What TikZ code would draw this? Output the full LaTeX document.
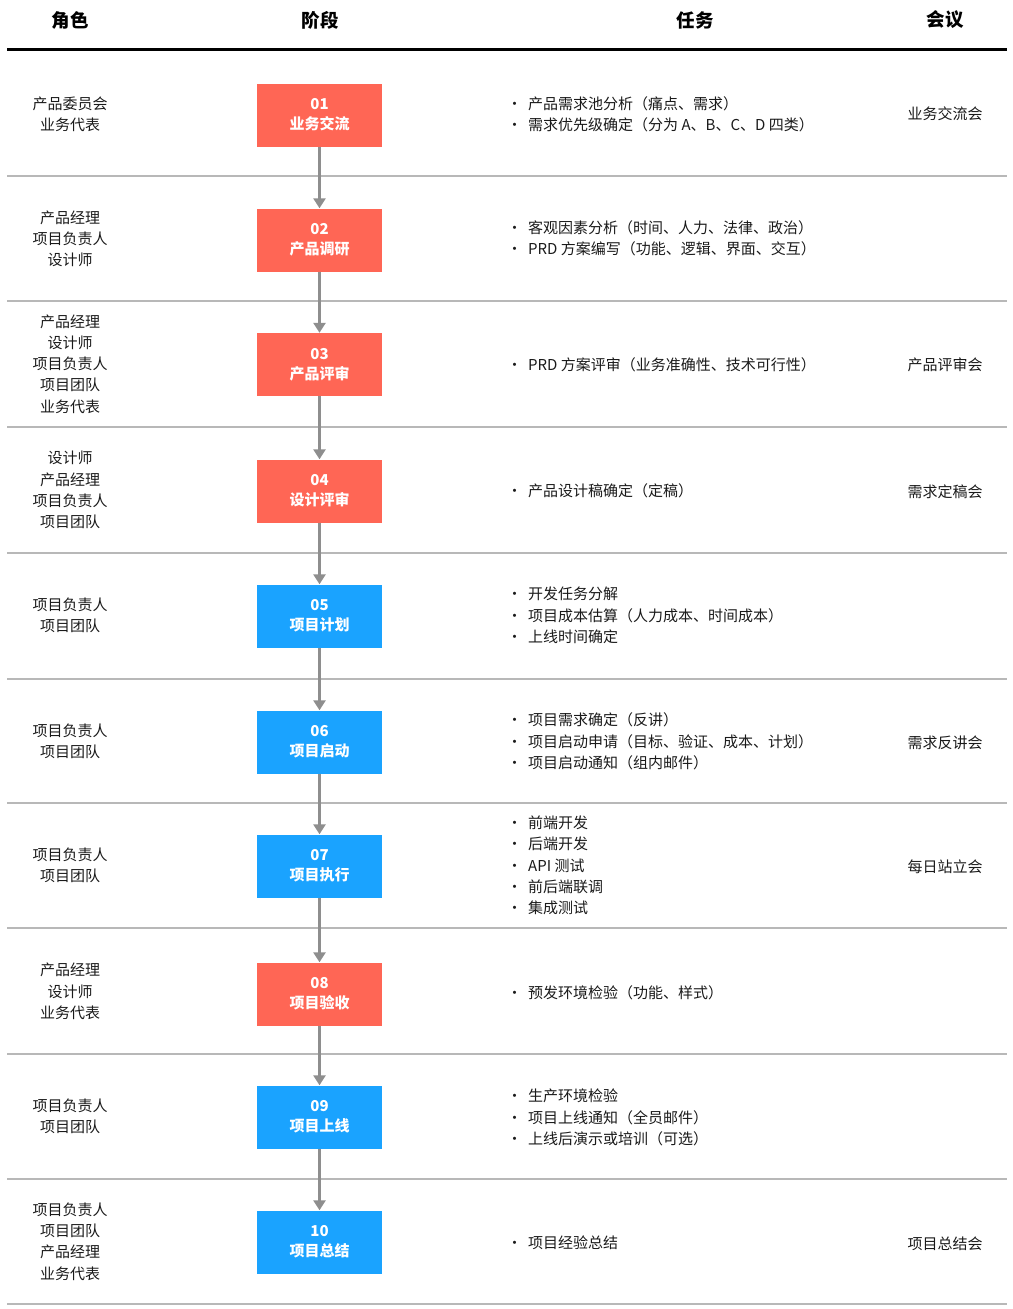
\documentclass[tikz,border=0pt]{standalone}
\usepackage{fontspec}
\setmainfont{Noto Sans CJK SC}
\usetikzlibrary{arrows.meta}
\definecolor{stRed}{HTML}{FF6655}
\definecolor{stBlue}{HTML}{1AA3FF}
\definecolor{sepGray}{HTML}{B8B8B8}
\definecolor{arrGray}{HTML}{8E8E8E}
\definecolor{txt}{HTML}{1A1A1A}
\newcommand{\bul}{\makebox[21pt][l]{•}}
\tikzset{
  hdr/.style={font=\fontsize{18.5}{22}\selectfont\bfseries, text=black, anchor=center},
  role/.style={font=\fontsize{15}{21.3}\selectfont, text=txt, align=center, anchor=center},
  task/.style={font=\fontsize{15}{21.3}\selectfont, text=txt, align=left, anchor=west, inner sep=0pt},
  meet/.style={font=\fontsize{15}{21.3}\selectfont, text=txt, anchor=center},
  stage/.style={minimum width=125pt, minimum height=63pt, inner sep=0pt, align=center,
     text=white, font=\fontsize{15}{20}\selectfont\bfseries},
  redst/.style={stage, fill=stRed},
  bluest/.style={stage, fill=stBlue},
  sep/.style={draw=sepGray, line width=1.2pt},
  flow/.style={draw=arrGray, line width=3pt, -{Triangle[width=12pt,length=10pt]}, shorten >=0pt}
}
\begin{document}
\begin{tikzpicture}[x=1pt,y=-1pt]
\useasboundingbox (0,0) rectangle (1012,1309);
% header
\node[hdr] (h1) at (70,20) {角色};
\node[hdr] (h2) at (320,20) {阶段};
\node[hdr] (h3) at (695,20) {任务};
\node[hdr] (h4) at (945,20) {会议};
\coordinate (hl) at (7,49.5);
\coordinate (hr) at (1007,49.5);
\draw[line width=3pt, black] (hl) -- (hr);
% separators
\foreach \yy [count=\i] in {176,301,427,553,679,803,928,1054,1179,1304}{
  \coordinate (sl\i) at (7,\yy);
  \coordinate (sr\i) at (1007,\yy);
  \draw[sep] (sl\i) -- (sr\i);
}
% stages
\node[redst]  (s1)  at (319.5,115)  {01\\业务交流};
\node[redst]  (s2)  at (319.5,240)  {02\\产品调研};
\node[redst]  (s3)  at (319.5,364.5){03\\产品评审};
\node[redst]  (s4)  at (319.5,491)  {04\\设计评审};
\node[bluest] (s5)  at (319.5,616)  {05\\项目计划};
\node[bluest] (s6)  at (319.5,742)  {06\\项目启动};
\node[bluest] (s7)  at (319.5,866)  {07\\项目执行};
\node[redst]  (s8)  at (319.5,994)  {08\\项目验收};
\node[bluest] (s9)  at (319.5,1117) {09\\项目上线};
\node[bluest] (s10) at (319.5,1242) {10\\项目总结};
\foreach \a/\b in {s1/s2,s2/s3,s3/s4,s4/s5,s5/s6,s6/s7,s7/s8,s8/s9,s9/s10}{
  \draw[flow] (\a.south) -- (\b.north);
}
% roles
\node[role] (r1)  at (70,114)   {产品委员会\\业务代表};
\node[role] (r2)  at (70,239)   {产品经理\\项目负责人\\设计师};
\node[role] (r3)  at (70,364)   {产品经理\\设计师\\项目负责人\\项目团队\\业务代表};
\node[role] (r4)  at (70,490)   {设计师\\产品经理\\项目负责人\\项目团队};
\node[role] (r5)  at (70,615.5) {项目负责人\\项目团队};
\node[role] (r6)  at (70,741)   {项目负责人\\项目团队};
\node[role] (r7)  at (70,865)   {项目负责人\\项目团队};
\node[role] (r8)  at (70,991.5) {产品经理\\设计师\\业务代表};
\node[role] (r9)  at (70,1116.5){项目负责人\\项目团队};
\node[role] (r10) at (70,1241.5){项目负责人\\项目团队\\产品经理\\业务代表};
% tasks
\node[task] (t1)  at (507,114)   {\bul 产品需求池分析（痛点、需求）\\\bul 需求优先级确定（分为 A、B、C、D 四类）};
\node[task] (t2)  at (507,238)   {\bul 客观因素分析（时间、人力、法律、政治）\\\bul PRD 方案编写（功能、逻辑、界面、交互）};
\node[task] (t3)  at (507,365)   {\bul PRD 方案评审（业务准确性、技术可行性）};
\node[task] (t4)  at (507,490.5) {\bul 产品设计稿确定（定稿）};
\node[task] (t5)  at (507,615.5) {\bul 开发任务分解\\\bul 项目成本估算（人力成本、时间成本）\\\bul 上线时间确定};
\node[task] (t6)  at (507,741.5) {\bul 项目需求确定（反讲）\\\bul 项目启动申请（目标、验证、成本、计划）\\\bul 项目启动通知（组内邮件）};
\node[task] (t7)  at (507,865.5) {\bul 前端开发\\\bul 后端开发\\\bul API 测试\\\bul 前后端联调\\\bul 集成测试};
\node[task] (t8)  at (507,992.5) {\bul 预发环境检验（功能、样式）};
\node[task] (t9)  at (507,1117.5){\bul 生产环境检验\\\bul 项目上线通知（全员邮件）\\\bul 上线后演示或培训（可选）};
\node[task] (t10) at (507,1242.5){\bul 项目经验总结};
% meetings
\node[meet] (m1)  at (945,113.5)  {业务交流会};
\node[meet] (m3)  at (945,364.5)  {产品评审会};
\node[meet] (m4)  at (945,491.5)  {需求定稿会};
\node[meet] (m6)  at (945,742.5)  {需求反讲会};
\node[meet] (m7)  at (945,866.5)  {每日站立会};
\node[meet] (m10) at (945,1243.5) {项目总结会};
\end{tikzpicture}
\end{document}
